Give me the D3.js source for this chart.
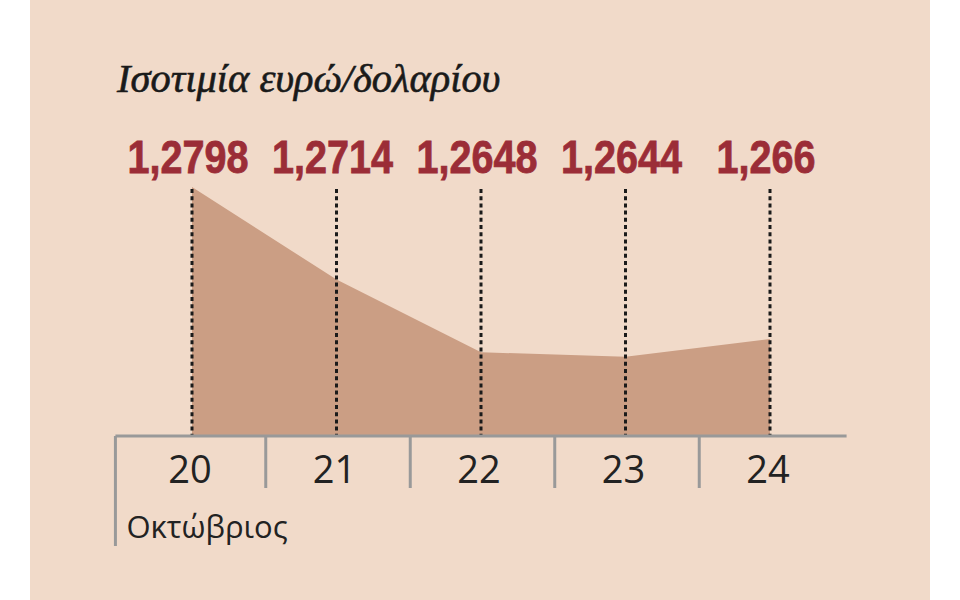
<!DOCTYPE html>
<html lang="el">
<head>
<meta charset="UTF-8">
<title>Ισοτιμία ευρώ/δολαρίου</title>
<script src="https://d3js.org/d3.v7.min.js"></script>
<style>
    body, html {
        margin: 0;
        padding: 0;
        background: #ffffff;
    }
    svg { display: block; }
</style>
</head>
<body>
<svg width="960" height="600"></svg>
<script>
    // Δεδομένα
    const days = ["20", "21", "22", "23", "24"];
    const rates = [1.2798, 1.2714, 1.2648, 1.2644, 1.266];
    const rateLabels = ["1,2798", "1,2714", "1,2648", "1,2644", "1,266"];
    const monthLabel = "Οκτώβριος";
    const title = "Ισοτιμία ευρώ/δολαρίου";

    const svg = d3.select("svg");

    // Φόντο
    svg.append("rect")
       .attr("x", 30).attr("y", 0)
       .attr("width", 900).attr("height", 600)
       .attr("fill", "#f1dac9");

    const axisY = 436;
    const x = d3.scalePoint().domain(days).range([192, 770]);
    const step = x.step();
    const y = d3.scaleLinear().domain([1.2572, 1.2798]).range([axisY, 187]);

    // Περιοχή
    const area = d3.area()
        .x((d, i) => x(days[i]))
        .y0(axisY)
        .y1(d => y(d));

    svg.append("path")
       .datum(rates)
       .attr("d", area)
       .attr("fill", "#cb9e84");

    // Διακεκομμένες γραμμές
    svg.selectAll("line.drop")
       .data(days)
       .enter().append("line")
       .attr("class", "drop")
       .attr("x1", d => x(d)).attr("x2", d => x(d))
       .attr("y1", 189).attr("y2", axisY)
       .attr("stroke", "#1a1a1a")
       .attr("stroke-width", 3)
       .attr("stroke-dasharray", "4,3.2");

    // Άξονας
    const left = x(days[0]) - step * 0.53;
    const right = x(days[days.length - 1]) + step * 0.53;
    svg.append("line")
       .attr("x1", left).attr("x2", right)
       .attr("y1", axisY).attr("y2", axisY)
       .attr("stroke", "#999999").attr("stroke-width", 3);

    // Διαχωριστικά
    const seps = days.slice(1).map((d, i) => (x(days[i]) + x(d)) / 2 + 1.5);
    svg.selectAll("line.sep")
       .data(seps)
       .enter().append("line")
       .attr("class", "sep")
       .attr("x1", d => d).attr("x2", d => d)
       .attr("y1", axisY).attr("y2", 488)
       .attr("stroke", "#999999").attr("stroke-width", 3);

    svg.append("line")
       .attr("x1", left).attr("x2", left)
       .attr("y1", axisY).attr("y2", 546)
       .attr("stroke", "#999999").attr("stroke-width", 3);

    // Ετικέτες ημερών
    svg.selectAll("text.day")
       .data(days)
       .enter().append("text")
       .attr("class", "day")
       .attr("x", d => x(d) - 2)
       .attr("y", 483)
       .attr("text-anchor", "middle")
       .attr("font-family", "'Open Sans', sans-serif")
       .attr("font-size", 38)
       .attr("fill", "#222222")
       .text(d => d);

    svg.append("text")
       .attr("x", left + 11)
       .attr("y", 538)
       .attr("font-family", "'Open Sans', sans-serif")
       .attr("font-size", 31)
       .attr("fill", "#222222")
       .text(monthLabel);

    // Τιμές (στενεμένη γραμματοσειρά με κλίμακα)
    svg.selectAll("text.val")
       .data(rateLabels)
       .enter().append("text")
       .attr("class", "val")
       .attr("transform", (d, i) => `translate(${x(days[i]) - 4},173) scale(0.86,1)`)
       .attr("text-anchor", "middle")
       .attr("font-family", "'Liberation Sans', sans-serif")
       .attr("font-weight", "bold")
       .attr("font-size", 46)
       .attr("fill", "#9b2d37")
       .attr("stroke", "#9b2d37")
       .attr("stroke-width", 0.8)
       .text(d => d);

    // Τίτλος
    svg.append("text")
       .attr("x", 117)
       .attr("y", 92)
       .attr("font-family", "'Liberation Serif', serif")
       .attr("font-style", "italic")
       .attr("font-size", 40.5)
       .attr("fill", "#1a1a1a")
       .attr("stroke", "#1a1a1a")
       .attr("stroke-width", 0.6)
       .text(title);
</script>
</body>
</html>
